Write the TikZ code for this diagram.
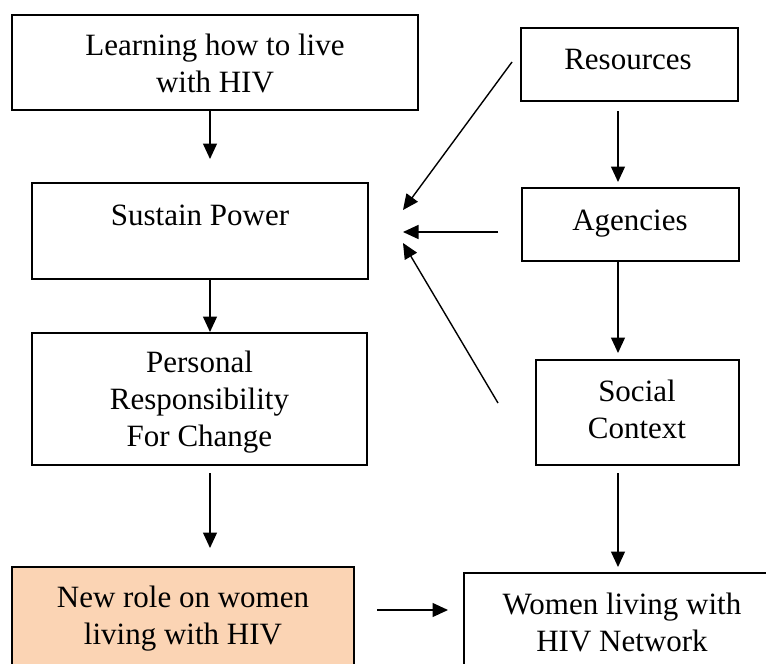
\documentclass[tikz,border=0pt]{standalone}
\usepackage{fontspec}
\setmainfont{Liberation Serif}
\usetikzlibrary{arrows.meta}
\definecolor{peach}{RGB}{251,212,180}
\begin{document}
\begin{tikzpicture}[x=1pt,y=-1pt,
  box/.style={draw=black, line width=1.3pt, rectangle, inner sep=0pt, outer sep=0pt},
  txt/.style={align=center, inner sep=0pt, font=\fontsize{31}{37}\selectfont},
  arr/.style={line width=1.4pt, -{Triangle[length=15.5pt,width=14pt]}}]
  \clip (0,0) rectangle (766,664);
  \fill[white] (0,0) rectangle (766,664);

  % left column
  \node[box, minimum width=406pt, minimum height=95pt] (learn) at (215,62.5) {};
  \node[txt] (learnT) at (215,63) {Learning how to live\\with HIV};
  \node[box, minimum width=336pt, minimum height=96pt] (sustain) at (200,231) {};
  \node[txt] (sustT) at (200,215) {Sustain Power};
  \node[box, minimum width=335pt, minimum height=132pt] (personal) at (199.5,399) {};
  \node[txt] (persT) at (199.5,402) {Personal\\Responsibility\\For Change};
  \node[box, fill=peach, minimum width=342pt, minimum height=133pt] (newrole) at (183,633.5) {};
  \node[txt] (newT) at (183,619) {New role on women\\living with HIV};

  % right column
  \node[box, minimum width=217pt, minimum height=73pt] (res) at (629.5,64.5) {};
  \node[txt] (resT) at (628,60) {Resources};
  \node[box, minimum width=217pt, minimum height=73pt] (agen) at (630.5,224.5) {};
  \node[txt] (agT) at (630,224) {Agencies};
  \node[box, minimum width=203pt, minimum height=105pt] (social) at (637.5,412.5) {};
  \node[txt] (socT) at (637,409) {Social\\Context};
  \node[box, minimum width=336pt, minimum height=127pt] (women) at (632,636.5) {};
  \node[txt] (womT) at (622,622) {Women living with\\HIV Network};

  % vertical flow on the left
  \draw[arr, shorten >=24pt] ([xshift=-5pt]learn.south) -- ([xshift=10pt]sustain.north);
  \draw[arr, shorten >=1pt] ([xshift=10pt]sustain.south) -- ([xshift=10.5pt]personal.north);
  \draw[arr, shorten <=8pt, shorten >=19pt] ([xshift=10.5pt]personal.south) -- ([xshift=27pt]newrole.north);

  % vertical flow on the right
  \draw[arr, shorten <=10pt, shorten >=6pt] ([xshift=-11.5pt]res.south) -- ([xshift=-12.5pt]agen.north);
  \draw[arr, shorten >=7pt] ([xshift=-12.5pt]agen.south) -- ([xshift=-19.5pt]social.north);
  \draw[arr, shorten <=8pt, shorten >=6pt] ([xshift=-19.5pt]social.south) -- ([xshift=-14pt]women.north);

  % new role feeds the network
  \draw[arr, shorten <=23pt, shorten >=16pt] ([yshift=-43pt]newrole.north east) -- ([yshift=-37pt]women.north west);

  % influences converging on Sustain Power
  \coordinate (r0) at (512,62);
  \coordinate (a0) at (498,232);
  \coordinate (s0) at (498,403);
  \coordinate (t1) at (403,210);
  \coordinate (t2) at (403,232);
  \coordinate (t3) at (403,243);
  \draw[arr] (r0) -- (t1);
  \draw[arr] (a0) -- (t2);
  \draw[arr] (s0) -- (t3);
\end{tikzpicture}
\end{document}
